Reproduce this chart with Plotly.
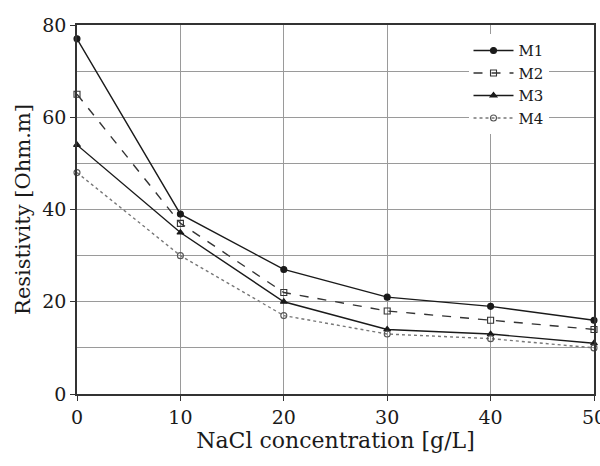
import plotly.graph_objects as go

nacl = [0, 10, 20, 30, 40, 50]
m1 = [77, 39, 27, 21, 19, 16]
m2 = [65, 37, 22, 18, 16, 14]
m3 = [54, 35, 20, 14, 13, 11]
m4 = [48, 30, 17, 13, 12, 10]

series = [
    ("M1", m1, "solid", "circle", "#1a1a1a", "#1a1a1a", "#1a1a1a"),
    ("M2", m2, "dash", "square-open", "#333333", "#333333", "#333333"),
    ("M3", m3, "solid", "triangle-up", "#1a1a1a", "#1a1a1a", "#1a1a1a"),
    ("M4", m4, "dot", "circle-open", "#777777", "#555555", "#555555"),
]

FONT = "DejaVu Serif"

fig = go.Figure()
for name, vals, dash, sym, lc, mc, mlc in series:
    fig.add_trace(go.Scatter(
        x=nacl, y=vals, name=name, mode="lines+markers",
        line=dict(color=lc, width=1.4, dash=dash),
        marker=dict(symbol=sym, size=6, color=mc, line=dict(color=mlc, width=1.1)),
        cliponaxis=False,
    ))

fig.update_layout(
    width=600, height=466,
    margin=dict(l=77, r=6, t=25, b=72, autoexpand=False),
    paper_bgcolor="white", plot_bgcolor="white",
    font=dict(family=FONT, color="#1a1a1a"),
    showlegend=True,
    legend=dict(
        x=0.912, y=0.975, xanchor="right", yanchor="top",
        bgcolor="white", borderwidth=0,
        font=dict(family=FONT, size=15, color="#1a1a1a"),
        itemwidth=40,
    ),
    xaxis=dict(
        range=[0, 50], tickvals=[0, 10, 20, 30, 40, 50],
        automargin=False,
        showgrid=True, gridcolor="#9a9a9a", gridwidth=1.2,
        showline=True, linecolor="#333333", linewidth=1.5, mirror=True,
        ticks="outside", ticklen=5, tickcolor="#333333",
        tickfont=dict(family=FONT, size=19),
        ticklabeloverflow="allow",
        title=dict(text="NaCl concentration [g/L]", font=dict(family=FONT, size=22), standoff=4),
        zeroline=False,
    ),
    yaxis=dict(
        range=[0, 80], dtick=20,
        automargin=False,
        showgrid=True, gridcolor="#9a9a9a", gridwidth=1.2,
        minor=dict(dtick=10, showgrid=True, gridcolor="#9a9a9a", gridwidth=1.2),
        showline=True, linecolor="#333333", linewidth=1.5, mirror=True,
        ticks="outside", ticklen=5, tickcolor="#333333",
        tickfont=dict(family=FONT, size=19),
        title=dict(text="Resistivity [Ohm.m]", font=dict(family=FONT, size=21), standoff=6),
        zeroline=False,
    ),
)

fig.write_html("out.html")
